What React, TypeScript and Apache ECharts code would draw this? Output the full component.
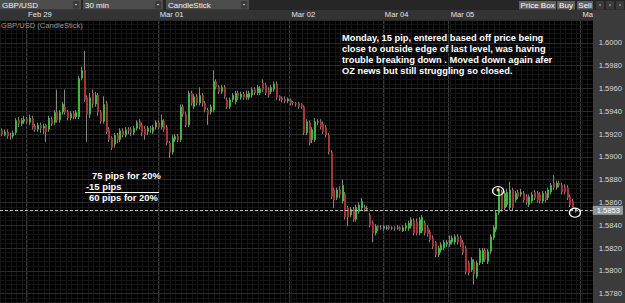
import React, { useEffect, useRef } from "react";
import * as echarts from "echarts";

// ---------- data ----------
const categoryCount = 216; // 30-minute slots across the visible window
const dayLabels = ["Feb 29", "Mar 01", "Mar 02", "Mar 04", "Mar 05", "Mar 06"];
const dayStarts = [9, 57, 105, 139, 163, 211];

// [open, close, low, high]
const candles: number[][] = [
  [1.5923, 1.5920, 1.5918, 1.5925], [1.5919, 1.5922, 1.5918, 1.5924], [1.5922, 1.5918, 1.5916, 1.5924],
  [1.5919, 1.5918, 1.5915, 1.5921], [1.5918, 1.5921, 1.5916, 1.5923], [1.5921, 1.5932, 1.5919, 1.5934],
  [1.5932, 1.5929, 1.5926, 1.5935], [1.5929, 1.5932, 1.5927, 1.5934], [1.5931, 1.5933, 1.5929, 1.5936],
  [1.5933, 1.5931, 1.5929, 1.5935], [1.5930, 1.5934, 1.5928, 1.5937], [1.5934, 1.5926, 1.5924, 1.5936],
  [1.5927, 1.5924, 1.5922, 1.5929], [1.5924, 1.5928, 1.5922, 1.5930], [1.5928, 1.5925, 1.5921, 1.5930],
  [1.5925, 1.5927, 1.5920, 1.5929], [1.5928, 1.5922, 1.5913, 1.5929], [1.5924, 1.5934, 1.5922, 1.5936],
  [1.5933, 1.5929, 1.5927, 1.5935], [1.5930, 1.5939, 1.5928, 1.5941], [1.5939, 1.5932, 1.5930, 1.5959],
  [1.5932, 1.5939, 1.5930, 1.5941], [1.5939, 1.5946, 1.5937, 1.5948], [1.5944, 1.5939, 1.5937, 1.5959],
  [1.5939, 1.5934, 1.5932, 1.5941], [1.5934, 1.5938, 1.5932, 1.5940], [1.5938, 1.5935, 1.5933, 1.5940],
  [1.5935, 1.5939, 1.5933, 1.5941], [1.5935, 1.5969, 1.5933, 1.5971], [1.5969, 1.5976, 1.5967, 1.5979],
  [1.5976, 1.5950, 1.5948, 1.5993], [1.5952, 1.5937, 1.5913, 1.5954], [1.5937, 1.5952, 1.5934, 1.5956],
  [1.5956, 1.5946, 1.5943, 1.5959], [1.5946, 1.5954, 1.5944, 1.5957], [1.5954, 1.5939, 1.5936, 1.5956],
  [1.5939, 1.5931, 1.5929, 1.5941], [1.5931, 1.5946, 1.5929, 1.5953], [1.5947, 1.5922, 1.5920, 1.5949],
  [1.5924, 1.5915, 1.5913, 1.5926], [1.5917, 1.5908, 1.5906, 1.5918], [1.5911, 1.5919, 1.5908, 1.5921],
  [1.5919, 1.5915, 1.5912, 1.5921], [1.5915, 1.5923, 1.5913, 1.5925], [1.5923, 1.5919, 1.5917, 1.5925],
  [1.5919, 1.5924, 1.5917, 1.5926], [1.5924, 1.5923, 1.5920, 1.5926], [1.5924, 1.5921, 1.5918, 1.5926],
  [1.5921, 1.5925, 1.5919, 1.5927], [1.5925, 1.5930, 1.5923, 1.5932], [1.5931, 1.5926, 1.5924, 1.5933],
  [1.5928, 1.5921, 1.5918, 1.5930], [1.5925, 1.5919, 1.5915, 1.5927], [1.5922, 1.5925, 1.5919, 1.5927],
  [1.5925, 1.5924, 1.5921, 1.5927], [1.5922, 1.5926, 1.5920, 1.5928], [1.5926, 1.5930, 1.5924, 1.5932],
  [1.5930, 1.5926, 1.5924, 1.5932], [1.5926, 1.5932, 1.5924, 1.5937], [1.5931, 1.5924, 1.5922, 1.5933],
  [1.5926, 1.5912, 1.5910, 1.5928], [1.5912, 1.5904, 1.5899, 1.5914], [1.5904, 1.5917, 1.5902, 1.5919],
  [1.5915, 1.5918, 1.5913, 1.5920], [1.5918, 1.5915, 1.5913, 1.5920], [1.5915, 1.5944, 1.5913, 1.5946],
  [1.5944, 1.5937, 1.5935, 1.5946], [1.5937, 1.5928, 1.5926, 1.5939], [1.5928, 1.5956, 1.5926, 1.5958],
  [1.5956, 1.5947, 1.5945, 1.5958], [1.5944, 1.5953, 1.5942, 1.5955], [1.5953, 1.5947, 1.5945, 1.5955],
  [1.5947, 1.5954, 1.5945, 1.5961], [1.5954, 1.5947, 1.5944, 1.5956], [1.5947, 1.5941, 1.5939, 1.5949],
  [1.5941, 1.5937, 1.5928, 1.5943], [1.5939, 1.5944, 1.5937, 1.5946], [1.5941, 1.5966, 1.5939, 1.5976],
  [1.5966, 1.5961, 1.5959, 1.5968], [1.5961, 1.5957, 1.5955, 1.5963], [1.5957, 1.5961, 1.5955, 1.5963],
  [1.5961, 1.5953, 1.5951, 1.5963], [1.5950, 1.5944, 1.5942, 1.5952], [1.5944, 1.5950, 1.5942, 1.5952],
  [1.5950, 1.5954, 1.5948, 1.5956], [1.5948, 1.5956, 1.5946, 1.5958], [1.5956, 1.5953, 1.5950, 1.5958],
  [1.5952, 1.5955, 1.5950, 1.5957], [1.5955, 1.5952, 1.5950, 1.5957], [1.5952, 1.5955, 1.5950, 1.5958],
  [1.5952, 1.5956, 1.5950, 1.5958], [1.5954, 1.5959, 1.5952, 1.5961], [1.5959, 1.5956, 1.5954, 1.5961],
  [1.5956, 1.5961, 1.5954, 1.5963], [1.5956, 1.5960, 1.5954, 1.5962], [1.5965, 1.5959, 1.5957, 1.5968],
  [1.5963, 1.5956, 1.5954, 1.5965], [1.5959, 1.5954, 1.5952, 1.5961], [1.5957, 1.5961, 1.5955, 1.5963],
  [1.5959, 1.5964, 1.5957, 1.5966], [1.5964, 1.5952, 1.5950, 1.5966], [1.5953, 1.5951, 1.5949, 1.5954],
  [1.5952, 1.5950, 1.5948, 1.5953], [1.5951, 1.5949, 1.5947, 1.5953], [1.5949, 1.5951, 1.5947, 1.5952],
  [1.5950, 1.5947, 1.5945, 1.5951], [1.5948, 1.5947, 1.5945, 1.5949], [1.5947, 1.5946, 1.5944, 1.5948],
  [1.5947, 1.5944, 1.5942, 1.5948], [1.5946, 1.5944, 1.5942, 1.5947], [1.5944, 1.5921, 1.5919, 1.5945],
  [1.5921, 1.5931, 1.5919, 1.5933], [1.5930, 1.5912, 1.5910, 1.5932], [1.5915, 1.5924, 1.5912, 1.5926],
  [1.5915, 1.5931, 1.5913, 1.5934], [1.5930, 1.5931, 1.5928, 1.5933], [1.5931, 1.5926, 1.5924, 1.5933],
  [1.5929, 1.5922, 1.5920, 1.5931], [1.5926, 1.5919, 1.5917, 1.5928], [1.5919, 1.5904, 1.5902, 1.5921],
  [1.5904, 1.5865, 1.5863, 1.5906], [1.5871, 1.5862, 1.5855, 1.5873], [1.5864, 1.5871, 1.5862, 1.5873],
  [1.5871, 1.5867, 1.5864, 1.5874], [1.5861, 1.5875, 1.5859, 1.5880], [1.5867, 1.5847, 1.5845, 1.5869],
  [1.5855, 1.5847, 1.5839, 1.5857], [1.5849, 1.5854, 1.5847, 1.5856], [1.5854, 1.5845, 1.5843, 1.5856],
  [1.5845, 1.5856, 1.5843, 1.5858], [1.5852, 1.5858, 1.5850, 1.5860], [1.5855, 1.5861, 1.5853, 1.5864],
  [1.5856, 1.5854, 1.5852, 1.5858], [1.5854, 1.5855, 1.5852, 1.5857], [1.5849, 1.5840, 1.5838, 1.5851],
  [1.5842, 1.5833, 1.5825, 1.5844], [1.5833, 1.5839, 1.5831, 1.5841], [1.5839, 1.5837, 1.5835, 1.5840],
  [1.5838, 1.5837, 1.5836, 1.5840], [1.5837, 1.5839, 1.5835, 1.5840], [1.5838, 1.5838, 1.5836, 1.5840],
  [1.5839, 1.5837, 1.5836, 1.5840], [1.5837, 1.5838, 1.5836, 1.5839], [1.5838, 1.5837, 1.5835, 1.5839],
  [1.5837, 1.5838, 1.5836, 1.5840], [1.5838, 1.5836, 1.5835, 1.5839], [1.5835, 1.5838, 1.5834, 1.5840],
  [1.5837, 1.5840, 1.5835, 1.5842], [1.5837, 1.5842, 1.5835, 1.5844], [1.5839, 1.5845, 1.5837, 1.5847],
  [1.5844, 1.5833, 1.5831, 1.5846], [1.5843, 1.5833, 1.5831, 1.5846], [1.5833, 1.5845, 1.5831, 1.5847],
  [1.5835, 1.5847, 1.5833, 1.5849], [1.5842, 1.5833, 1.5831, 1.5844], [1.5838, 1.5832, 1.5830, 1.5840],
  [1.5834, 1.5827, 1.5825, 1.5836], [1.5829, 1.5821, 1.5819, 1.5831], [1.5825, 1.5814, 1.5812, 1.5826],
  [1.5814, 1.5820, 1.5812, 1.5822], [1.5818, 1.5823, 1.5816, 1.5825], [1.5820, 1.5825, 1.5818, 1.5827],
  [1.5823, 1.5825, 1.5821, 1.5827], [1.5823, 1.5827, 1.5821, 1.5831], [1.5825, 1.5829, 1.5823, 1.5831],
  [1.5825, 1.5830, 1.5823, 1.5832], [1.5830, 1.5825, 1.5823, 1.5832], [1.5829, 1.5823, 1.5821, 1.5831],
  [1.5825, 1.5816, 1.5814, 1.5827], [1.5820, 1.5799, 1.5797, 1.5822], [1.5807, 1.5798, 1.5796, 1.5809],
  [1.5801, 1.5810, 1.5799, 1.5812], [1.5808, 1.5797, 1.5788, 1.5810], [1.5795, 1.5807, 1.5793, 1.5809],
  [1.5807, 1.5818, 1.5805, 1.5820], [1.5808, 1.5818, 1.5806, 1.5820], [1.5818, 1.5810, 1.5808, 1.5820],
  [1.5808, 1.5817, 1.5806, 1.5819], [1.5817, 1.5830, 1.5815, 1.5832], [1.5829, 1.5838, 1.5827, 1.5840],
  [1.5836, 1.5851, 1.5834, 1.5853], [1.5851, 1.5871, 1.5849, 1.5873], [1.5869, 1.5854, 1.5852, 1.5871],
  [1.5855, 1.5868, 1.5853, 1.5870], [1.5858, 1.5869, 1.5856, 1.5872], [1.5855, 1.5871, 1.5853, 1.5878],
  [1.5871, 1.5855, 1.5853, 1.5873], [1.5862, 1.5868, 1.5860, 1.5870], [1.5869, 1.5865, 1.5863, 1.5871],
  [1.5867, 1.5869, 1.5865, 1.5872], [1.5868, 1.5862, 1.5860, 1.5870], [1.5865, 1.5860, 1.5858, 1.5867],
  [1.5858, 1.5865, 1.5856, 1.5867], [1.5861, 1.5867, 1.5859, 1.5869], [1.5869, 1.5864, 1.5862, 1.5871],
  [1.5868, 1.5862, 1.5860, 1.5870], [1.5867, 1.5861, 1.5859, 1.5869], [1.5861, 1.5868, 1.5859, 1.5870],
  [1.5868, 1.5862, 1.5860, 1.5870], [1.5864, 1.5871, 1.5862, 1.5873], [1.5869, 1.5875, 1.5867, 1.5877],
  [1.5877, 1.5873, 1.5871, 1.5884], [1.5873, 1.5877, 1.5871, 1.5879], [1.5877, 1.5875, 1.5873, 1.5879],
  [1.5875, 1.5869, 1.5867, 1.5877], [1.5874, 1.5869, 1.5867, 1.5876], [1.5873, 1.5864, 1.5862, 1.5875],
  [1.5865, 1.5858, 1.5856, 1.5867], [1.5861, 1.5855, 1.5853, 1.5863], [1.5854, 1.5852, 1.5851, 1.5855],
];

const lastPrice = 1.5853;
const circledCandles = [181, 209];
const circledPrices = [1.5870, 1.5851];
const yMin = 1.576;
const yMax = 1.602;
const yStep = 0.002;

const chartTitle = "GBP/USD (CandleStick)";
const toolbarSelectors = ["GBP/USD", "30 min", "CandleStick"];
const toolbarButtons = ["Price Box", "Buy", "Sell"];
const noteLines = [
  "Monday, 15 pip, entered based off price being",
  "close to outside edge of last level, was having",
  "trouble breaking down . Moved down again afer",
  "OZ news but still struggling so closed.",
];
const pipLines = ["75 pips for 20%", "-15 pips", "60 pips for 20%"];

// ---------- styling ----------
const FONT = "'Liberation Sans', Arial, sans-serif";
const GREEN = "#42b642";
const RED = "#a23535";
const DOJI = "#9a9a9a";
const WICK = "#858585";
const LIVE = "#7cc4f2";

export default function App() {
  const ref = useRef<HTMLDivElement>(null);

  useEffect(() => {
    if (!ref.current) return;
    const chart = echarts.init(ref.current, undefined, { renderer: "svg" });
    const categories = Array.from({ length: categoryCount }, (_, i) => String(i));
    const seriesData = candles.map((c, i) => [i, c[0], c[1], c[2], c[3]]);
    const lastIndex = candles.length - 1;

    const renderItem = (_params: any, api: any) => {
      const i = api.value(0);
      const o = api.value(1);
      const c = api.value(2);
      const l = api.value(3);
      const h = api.value(4);
      const po = api.coord([i, o]);
      const pc = api.coord([i, c]);
      const pl = api.coord([i, l]);
      const ph = api.coord([i, h]);
      const x = Math.round(po[0]);
      const top = Math.min(po[1], pc[1]);
      const bot = Math.max(po[1], pc[1]);
      const fill = i === lastIndex ? LIVE : c > o ? GREEN : c < o ? RED : DOJI;
      return {
        type: "group",
        children: [
          {
            type: "line",
            shape: { x1: x + 0.5, y1: ph[1], x2: x + 0.5, y2: pl[1] },
            style: { stroke: WICK, lineWidth: 1 },
          },
          {
            type: "rect",
            shape: { x: x, y: top, width: 2, height: Math.max(1, bot - top) },
            style: { fill },
          },
        ],
      };
    };

    const graphic: any[] = [
      { type: "rect", shape: { x: 0, y: 0, width: 625, height: 10 }, style: { fill: "#262626" }, z: 1, silent: true },
      { type: "rect", shape: { x: 0, y: 10, width: 625, height: 10 }, style: { fill: "#333333" }, z: 1, silent: true },
      { type: "rect", shape: { x: 593, y: 10, width: 32, height: 310 }, style: { fill: "#3b3b3b" }, z: 4, silent: true },
    ];
    const selX = [0, 83, 166];
    const selW = [81, 80, 83];
    toolbarSelectors.forEach((t, k) => {
      graphic.push(
        { type: "rect", shape: { x: selX[k], y: 0, width: selW[k], height: 9.5 }, style: { fill: "#4d4d4d" }, z: 2, silent: true },
        { type: "rect", shape: { x: selX[k] + selW[k] - 8, y: 1, width: 6, height: 7.5 }, style: { fill: "#3a3a3a" }, z: 3, silent: true },
        { type: "polygon", shape: { points: [[selX[k] + selW[k] - 6.5, 4], [selX[k] + selW[k] - 3.5, 4], [selX[k] + selW[k] - 5, 5.5]] }, style: { fill: "#cfcfcf" }, z: 4, silent: true },
        { type: "text", x: selX[k] + 2, y: 5, style: { text: t, fill: "#f2f2f2", fontSize: 8, fontFamily: FONT, verticalAlign: "middle", align: "left" }, z: 4, silent: true },
      );
    });
    const btnX = [519, 557, 577];
    const btnW = [37, 18, 16];
    toolbarButtons.forEach((t, k) => {
      graphic.push(
        { type: "rect", shape: { x: btnX[k], y: 1, width: btnW[k], height: 8.5 }, style: { fill: "#5e5e5e" }, z: 2, silent: true },
        { type: "text", x: btnX[k] + btnW[k] / 2, y: 5.3, style: { text: t, fill: "#ffffff", fontSize: 8, fontFamily: FONT, verticalAlign: "middle", align: "center" }, z: 4, silent: true },
      );
    });
    [596, 606, 616].forEach((ix) => {
      graphic.push(
        { type: "rect", shape: { x: ix, y: 1, width: 8, height: 8.5 }, style: { fill: "#3a3a3a" }, z: 2, silent: true },
        { type: "rect", shape: { x: ix + 3, y: 4, width: 2, height: 2 }, style: { fill: "#777" }, z: 3, silent: true },
      );
    });
    graphic.push(
      { type: "text", x: 1, y: 21, style: { text: chartTitle, fill: "#9a9a9a", fontSize: 7.6, fontFamily: FONT, verticalAlign: "top", align: "left" }, z: 10, silent: true },
      { type: "text", x: 342, y: 33, style: { text: noteLines.join("\n"), fill: "#ffffff", fontSize: 9.3, fontWeight: "bold", lineHeight: 10.9, fontFamily: FONT, verticalAlign: "top", align: "left" }, z: 10, silent: true },
      { type: "text", x: 92, y: 170.5, style: { text: pipLines[0], fill: "#ffffff", fontSize: 9.4, fontWeight: "bold", fontFamily: FONT, verticalAlign: "top", align: "left" }, z: 10, silent: true },
      { type: "text", x: 86, y: 181.5, style: { text: pipLines[1], fill: "#ffffff", fontSize: 9.4, fontWeight: "bold", fontFamily: FONT, verticalAlign: "top", align: "left" }, z: 10, silent: true },
      { type: "line", shape: { x1: 85, y1: 192.5, x2: 159, y2: 192.5 }, style: { stroke: "#ffffff", lineWidth: 1 }, z: 10, silent: true },
      { type: "text", x: 89, y: 193, style: { text: pipLines[2], fill: "#ffffff", fontSize: 9.4, fontWeight: "bold", fontFamily: FONT, verticalAlign: "top", align: "left" }, z: 10, silent: true },
    );

    const option: any = {
      animation: false,
      backgroundColor: "#000000",
      grid: { left: 0, right: 32, top: 20, bottom: 0.6, containLabel: false },
      xAxis: {
        type: "category",
        data: categories,
        boundaryGap: true,
        position: "bottom",
        axisLine: { show: false },
        axisTick: { show: false },
        axisLabel: { show: false },
        splitLine: { show: true, interval: 1, lineStyle: { color: "#161616", width: 1 } },
        z: 3,
      },
      yAxis: {
        type: "value",
        position: "right",
        min: yMin,
        max: yMax,
        interval: yStep,
        axisLine: { show: false },
        axisTick: { show: false },
        axisLabel: {
          color: "#dadada",
          fontSize: 7.6,
          fontFamily: FONT,
          margin: 6,
          showMaxLabel: false,
          showMinLabel: false,
          formatter: (v: number) => v.toFixed(4),
        },
        splitLine: { show: true, lineStyle: { color: "#2a2a2a", width: 1 } },
        minorTick: { show: false, splitNumber: 5 },
        minorSplitLine: { show: true, lineStyle: { color: "#151515", width: 1 } },
        z: 6,
      },
      graphic,
      series: [
        {
          // day boundaries and their date labels in the top bar
          type: "line",
          name: "days",
          data: [],
          silent: true,
          z: 3,
          markLine: {
            z: 3.5,
            symbol: ["none", "none"],
            silent: true,
            animation: false,
            lineStyle: { color: "#3a3a3a", type: "solid", width: 1 },
            label: {
              show: true,
              position: "end",
              align: "left",
              verticalAlign: "bottom",
              distance: 2,
              padding: [0, 0, 0, 2],
              color: "#e6e6e6",
              fontSize: 7.6,
              fontFamily: FONT,
            },
            data: dayStarts.map((idx, k) => ({ xAxis: idx, label: { formatter: dayLabels[k] } })),
          },
        },
        {
          type: "custom",
          name: "GBP/USD",
          z: 7,
          renderItem,
          encode: { x: 0, y: [1, 2, 3, 4] },
          data: seriesData,
          clip: true,
          silent: true,
          markPoint: {
            z: 9,
            symbol: "circle",
            symbolSize: [11, 9],
            silent: true,
            animation: false,
            label: { show: false },
            itemStyle: { color: "rgba(0,0,0,0)", borderColor: "#ffffff", borderWidth: 1.2 },
            data: [
              ...circledCandles.map((idx, k) => ({ coord: [idx, circledPrices[k]] })),
              { coord: [circledCandles[0], circledPrices[0] + 0.0001], symbolSize: 3, itemStyle: { color: "#e4dc6e", borderWidth: 0 } },
            ],
          },
        },
        {
          // current price line
          type: "line",
          name: "last",
          data: [],
          silent: true,
          z: 8,
          markLine: {
            z: 8,
            precision: 4,
            symbol: ["none", "none"],
            silent: true,
            animation: false,
            lineStyle: { color: "#bdbdbd", type: [3, 2], width: 1 },
            label: {
              show: true,
              position: "end",
              formatter: lastPrice.toFixed(4),
              color: "#ffffff",
              backgroundColor: "#8e969e",
              fontSize: 7.6,
              fontFamily: FONT,
              padding: [1, 3, 0, 4],
              distance: 0,
            },
            data: [{ yAxis: lastPrice }],
          },
        },
      ],
    };

    chart.setOption(option);
    return () => chart.dispose();
  }, []);

  return (
    <div
      style={{
        position: "fixed",
        left: 0,
        top: 0,
        width: 625,
        height: 303,
        overflow: "hidden",
        background: "#000",
      }}
    >
      <div ref={ref} style={{ width: 625, height: 317 }} />
    </div>
  );
}
